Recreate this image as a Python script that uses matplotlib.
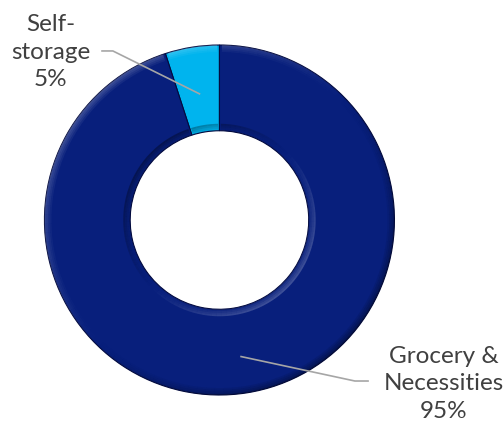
import numpy as np
import matplotlib.pyplot as plt
from matplotlib.patches import Wedge

labels = ["Self-\nstorage", "Grocery &\nNecessities"]
shares = [5, 95]
colors = ["#00B4EE", "#081F7C"]

plt.rcParams["font.family"] = ["Lato", "DejaVu Sans"]

fig = plt.figure(figsize=(5.04, 4.29), dpi=100)
ax = fig.add_axes([0, 0, 1, 1])

inner = 0.51
wedges, _ = ax.pie(shares, colors=colors, startangle=90, counterclock=True,
                   radius=1.0, wedgeprops=dict(width=1 - inner, edgecolor="#030B40", linewidth=0.8),
                   frame=True)
ax.set_xlim(-1.254, 1.626)
ax.set_ylim(-1.194, 1.257)
ax.set_aspect("equal")
ax.axis("off")

# bevel shading: light from upper left, in small angular steps
light = 135
for w in wedges:
    t1, t2 = w.theta1 + 0.8, w.theta2 - 0.8
    steps = np.linspace(t1, t2, max(int((t2 - t1) / 3), 2) + 1)
    for a, b in zip(steps[:-1], steps[1:]):
        m = np.cos(np.deg2rad((a + b) / 2 - light))
        # outer rim lit on the upper left, inner rim lit on the lower right
        for r, sgn in [(1.0, 1), (inner + 0.04, -1)]:
            k = sgn * m
            for j in range(4):
                wd = 0.01
                rr = r - j * wd if sgn > 0 else r - j * wd
                if k > 0:
                    fc, al = "white", 0.22 * k * (1 - j / 4)
                else:
                    fc, al = "black", 0.35 * -k * (1 - j / 4)
                ax.add_patch(Wedge((0, 0), rr, a, b, width=wd, facecolor=fc,
                                   alpha=al, linewidth=0))

# leader lines and labels
text_pos = [(-0.963, 0.96), (1.28, -0.935)]
elbows = [((-0.609, 0.966), (-0.671, 0.966)), ((0.774, -0.92), (0.849, -0.92))]
anchor_r = [0.73, 0.79]
for w, lab, val, tp, (e1, e2), ar in zip(wedges, labels, shares, text_pos, elbows, anchor_r):
    mid = np.deg2rad((w.theta1 + w.theta2) / 2)
    p0 = (ar * np.cos(mid), ar * np.sin(mid))
    ax.plot([p0[0], e1[0], e2[0]], [p0[1], e1[1], e2[1]], color="#A6A6A6", lw=1.2)
    ax.text(tp[0], tp[1], f"{lab}\n{val}%", ha="center", va="center",
            fontsize=17.5, color="#404040", linespacing=1.38)

fig.savefig("out.png", dpi=100)
